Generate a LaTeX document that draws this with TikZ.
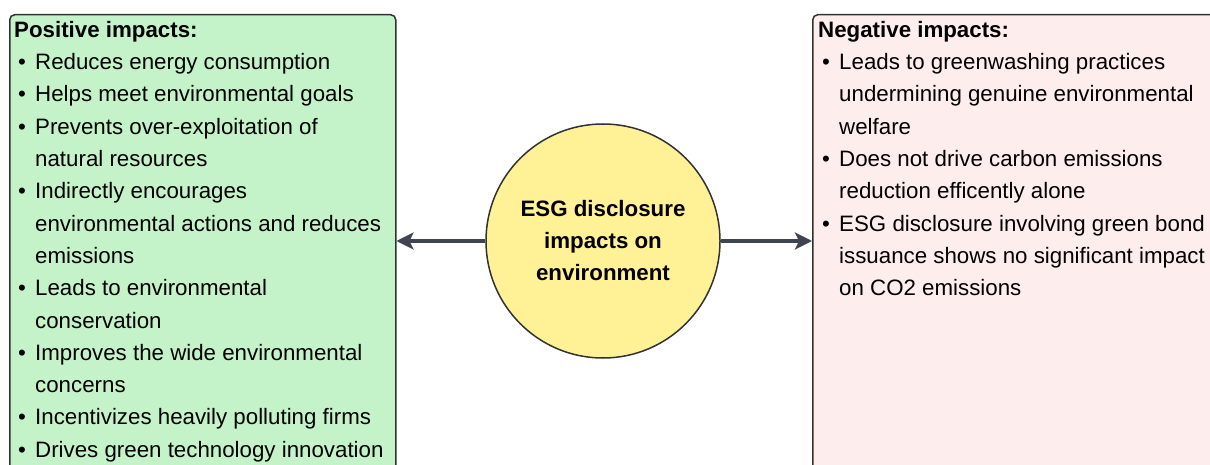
\documentclass[tikz,border=0pt]{standalone}
\usepackage{fontspec}
\setmainfont{Liberation Sans}
\usetikzlibrary{arrows.meta}
\definecolor{posfill}{RGB}{196,243,201}
\definecolor{negfill}{RGB}{253,237,236}
\definecolor{hubfill}{RGB}{255,241,150}
\definecolor{rim}{RGB}{50,50,50}
\definecolor{linkc}{RGB}{62,68,82}
\newcommand\bul{\hspace*{4pt}\makebox[17pt][l]{•}}
\newcommand\cnt{\hspace*{21pt}}
\tikzset{
  panel/.style={draw=rim, line width=1.5pt, rounded corners=5pt, anchor=north west, inner sep=0pt},
  listtext/.style={anchor=north west, align=left, inner sep=0pt, font=\fontsize{22.3}{32.3}\selectfont},
  hub/.style={circle, draw=rim, line width=1.5pt, fill=hubfill, minimum size=234pt, align=center, font=\fontsize{22.3}{32}\selectfont\bfseries},
  link/.style={draw=linkc, line width=3pt, -{Stealth[length=17pt,width=17pt,inset=4pt]}}
}
\begin{document}
\begin{tikzpicture}[x=1pt, y=-1pt]
\useasboundingbox (0,0) rectangle (1210,465); \clip (0,0) rectangle (1210,465);
\fill[white] (0,0) rectangle (1210,465);
% the two panels run past the edge of the page
\node[panel, fill=posfill, minimum width=386pt, minimum height=500pt] (pos) at (9,14) {};
\node[panel, fill=negfill, minimum width=450pt, minimum height=500pt] (neg) at (812,14) {};
\node[listtext] (postext) at (14,21) {\textbf{Positive impacts:}\\
\bul Reduces energy consumption\\ \bul Helps meet environmental goals\\
\bul Prevents over-exploitation of\\ \cnt natural resources\\
\bul Indirectly encourages\\ \cnt environmental actions and reduces\\ \cnt emissions\\
\bul Leads to environmental\\ \cnt conservation\\
\bul Improves the wide environmental\\ \cnt concerns\\
\bul Incentivizes heavily polluting firms\\ \bul Drives green technology innovation};
\node[listtext] (negtext) at (818,21) {\textbf{Negative impacts:}\\
\bul Leads to greenwashing practices\\ \cnt undermining genuine environmental\\ \cnt welfare\\
\bul Does not drive carbon emissions\\ \cnt reduction efficently alone\\
\bul ESG disclosure involving green bond\\ \cnt issuance shows no significant impact\\ \cnt on CO2 emissions};
% centre and arrows
\node[hub] (esg) at (603,241) {ESG disclosure\\impacts on\\environment};
\draw[link] (esg.west) -- (esg.west -| pos.east);
\draw[link] (esg.east) -- (esg.east -| neg.west);
\end{tikzpicture}
\end{document}
